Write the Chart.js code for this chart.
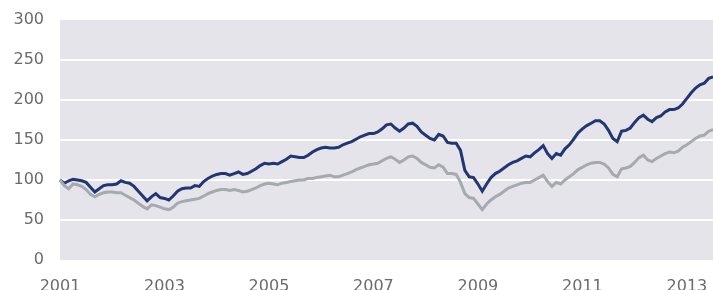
<!DOCTYPE html>
<html>
<head>
<meta charset="utf-8">
<script src="https://cdn.jsdelivr.net/npm/chart.js@4.4.0/dist/chart.umd.min.js"></script>
<style>
  html, body { margin: 0; padding: 0; background: #fff; }
  #wrap { width: 713px; height: 290px; position: relative; }
</style>
</head>
<body>
<div id="wrap"><canvas id="chart"></canvas></div>
<script>
// monthly index values, Jan 2001 .. Jul 2013 (2001 = 100)
var years = [2001, 2002, 2003, 2004, 2005, 2006, 2007, 2008, 2009, 2010, 2011, 2012, 2013];
var yearTicks = [2001, 2003, 2005, 2007, 2009, 2011, 2013];

var darkSeries = [
  100, 96, 99, 101, 100, 99, 97, 91, 85, 89, 93, 94,
  94, 95, 99, 97, 96, 92, 86, 80, 74, 79, 83, 78,
  77, 75, 80, 86, 89, 90, 90, 93, 92, 98, 102, 105,
  107, 108, 108, 106, 108, 110, 107, 108, 111, 114, 118, 121,
  120, 121, 120, 123, 126, 130, 129, 128, 128, 131, 135, 138,
  140, 141, 140, 140, 141, 144, 146, 148, 151, 154, 156, 158,
  158, 160, 164, 169, 170, 165, 161, 165, 170, 171, 167, 160,
  156, 152, 150, 157, 155, 147, 146, 146, 137, 112, 104, 103,
  95, 86, 95, 103, 108, 111, 115, 119, 122, 124, 127, 130,
  129, 134, 138, 143, 133, 127, 133, 131, 139, 144, 151, 159,
  164, 168, 171, 174, 174, 170, 162, 152, 148, 161, 162, 165,
  172, 178, 181, 176, 173, 178, 180, 185, 188, 188, 190, 195,
  202, 209, 215, 219, 221, 227, 229
];

var graySeries = [
  100, 93, 89, 95, 94, 92, 88, 82, 79, 82, 84, 85,
  85, 84, 84, 81, 78, 75, 71, 67, 64, 69, 68, 66,
  64, 63, 66, 71, 73, 74, 75, 76, 77, 80, 83, 85,
  87, 88, 88, 87, 88, 87, 85, 86, 88, 90, 93, 95,
  96, 95, 94, 96, 97, 98, 99, 100, 100, 102, 102, 103,
  104, 105, 106, 104, 104, 106, 108, 110, 113, 115, 117, 119,
  120, 121, 124, 127, 129, 126, 122, 125, 129, 130, 127, 122,
  119, 116, 115, 119, 116, 108, 108, 107, 97, 83, 78, 77,
  70, 63, 70, 75, 79, 82, 86, 90, 92, 94, 96, 97,
  97, 100, 103, 106, 98, 92, 97, 95, 100, 104, 108, 113,
  116, 119, 121, 122, 122, 120, 115, 107, 104, 114, 115, 117,
  122, 128, 131, 125, 123, 127, 130, 133, 135, 134, 136, 141,
  144, 148, 152, 155, 156, 161, 163
];

var labels = [];
years.forEach(function(y) {
  for (var m = 1; m <= 12; m++) labels.push(y + '-' + m);
});
labels = labels.slice(0, darkSeries.length);

// light grey panel behind the plot area
var plotPanel = {
  id: 'plotPanel',
  beforeDraw: function(chart) {
    var a = chart.chartArea;
    var c = chart.ctx;
    c.save();
    c.fillStyle = 'rgb(228,228,234)';
    c.fillRect(a.left, a.top, a.right - a.left, a.bottom - a.top);
    c.restore();
  }
};
Chart.register(plotPanel);

var ctx = document.getElementById('chart');
var chart = new Chart(ctx, {
  type: 'line',
  data: {
    labels: labels,
    datasets: [{
      label: 'gray',
      data: graySeries,
      borderColor: '#a6a9b0',
      borderWidth: 3,
      pointRadius: 0,
      fill: false
    }, {
      label: 'dark',
      data: darkSeries,
      borderColor: '#223672',
      borderWidth: 3,
      pointRadius: 0,
      fill: false
    }]
  },
  options: {
    responsive: true,
    maintainAspectRatio: false,
    animation: false,
    layout: { padding: { top: 20, right: 0, left: 0, bottom: 0 } },
    plugins: {
      legend: { display: false },
      tooltip: { enabled: false }
    },
    scales: {
      x: {
        grid: { display: false, drawTicks: false },
        border: { display: false },
        afterFit: function(scale) { scale.height = 30; scale.paddingRight = 0; scale.paddingLeft = 0; },
        ticks: {
          autoSkip: false,
          maxRotation: 0,
          padding: 17,
          color: '#6b6b6b',
          font: { family: 'DejaVu Sans', size: 16 },
          callback: function(val, i) {
            var parts = labels[i].split('-');
            var y = +parts[0];
            if (parts[1] === '1' && yearTicks.indexOf(y) >= 0) return String(y);
            return '';
          }
        }
      },
      y: {
        min: 0,
        max: 300,
        afterFit: function(scale) { scale.width = 60; scale.paddingTop = 0; scale.paddingBottom = 0; },
        border: { display: false },
        grid: {
          drawTicks: false,
          lineWidth: 2,
          color: function(c) {
            var v = c.tick ? c.tick.value : 0;
            return (v === 0 || v === 300) ? 'rgba(0,0,0,0)' : '#ffffff';
          }
        },
        ticks: {
          stepSize: 50,
          padding: 16,
          color: '#6b6b6b',
          font: { family: 'DejaVu Sans', size: 16 }
        }
      }
    }
  }
});
</script>
</body>
</html>
